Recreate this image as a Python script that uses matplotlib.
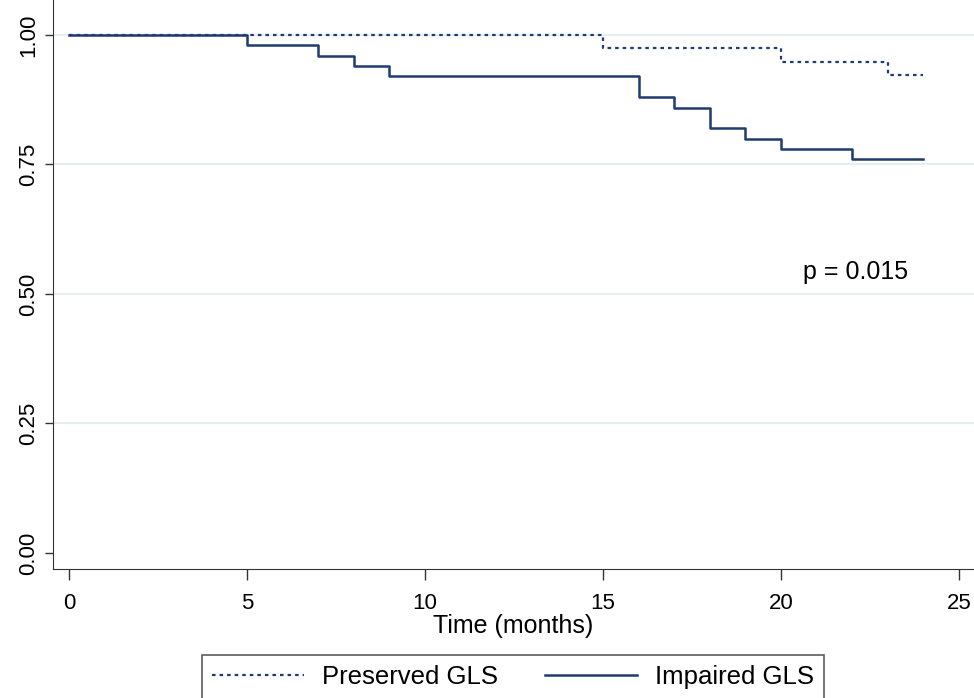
import matplotlib
matplotlib.use("Agg")
import matplotlib.pyplot as plt

plt.rcParams['font.family'] = ['Liberation Sans', 'DejaVu Sans']

# Kaplan-Meier step data (months, survival)
pres_time = [0, 15, 20, 23, 24]
pres_surv = [1.0, 0.975, 0.948, 0.923, 0.923]
imp_time = [0, 5, 7, 8, 9, 16, 17, 18, 19, 20, 22, 24]
imp_surv = [1.0, 0.98, 0.96, 0.94, 0.92, 0.88, 0.86, 0.82, 0.80, 0.78, 0.76, 0.76]

xticks = [0, 5, 10, 15, 20, 25]
yticks = [0.00, 0.25, 0.50, 0.75, 1.00]
col = '#1f3b6f'

fig = plt.figure(figsize=(9.74, 6.98), dpi=100)
ax = fig.add_axes([53 / 974, 1 - 569 / 698, 1 - 53 / 974, 569 / 698])

for y in yticks[1:]:
    ax.axhline(y, color='#e6eef2', lw=1.5, zorder=0)

ax.step(pres_time, pres_surv, where='post', color=col, lw=1.6,
        linestyle=(0, (1.6, 1.8)), label='Preserved GLS')
ax.step(imp_time, imp_surv, where='post', color=col, lw=1.8,
        label='Impaired GLS')

ax.set_xlim(-0.45, 25.42)
ax.set_ylim(-0.031, 1.0676)
ax.set_xticks(xticks)
ax.set_yticks(yticks)
ax.set_yticklabels(['%.2f' % v for v in yticks], rotation=90, va='center')
ax.tick_params(axis='both', labelsize=16, width=1, color='#333333')
ax.tick_params(axis='x', length=8, pad=9)
ax.tick_params(axis='y', length=6, pad=4)
for s in ['top', 'right']:
    ax.spines[s].set_visible(False)
for s in ['left', 'bottom']:
    ax.spines[s].set_color('#333333')

ax.set_xlabel('Time (months)', fontsize=18, labelpad=0)
ax.text(22.1, 0.542, 'p = 0.015', fontsize=18, ha='center', va='center')

leg = fig.legend(loc='upper center', bbox_to_anchor=(513 / 974, 1 - 655 / 698),
                 ncol=2, fontsize=18.5, frameon=True, fancybox=False,
                 handlelength=3.6, handletextpad=0.7, columnspacing=1.8,
                 borderpad=0.4, borderaxespad=0)
leg.get_frame().set_edgecolor('#333333')
leg.get_frame().set_linewidth(1.2)

fig.savefig('out.png', dpi=100)
